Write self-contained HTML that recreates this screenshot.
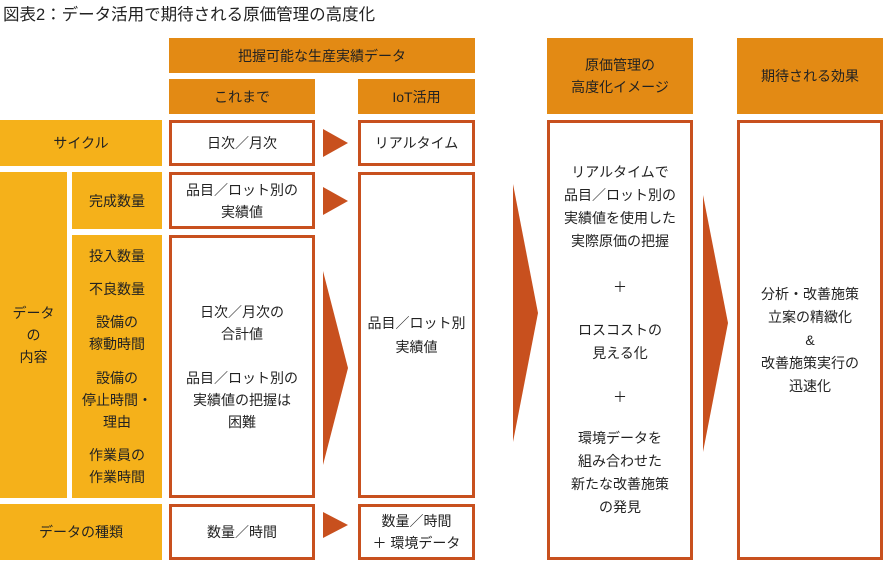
<!DOCTYPE html>
<html><head><meta charset="utf-8"><style>
body{margin:0;width:883px;height:564px;background:#fff;position:relative;overflow:hidden;font-family:"Liberation Sans","Noto Sans CJK JP",sans-serif;color:#222;}
.a{position:absolute;box-sizing:border-box;display:flex;align-items:center;justify-content:center;text-align:center;font-size:14px;line-height:22px;}
.h{background:#E38A14;}
.y{background:#F5B11A;}
.b{border:3px solid #C8501E;background:#fff;}
svg{position:absolute;left:0;top:0;}
</style></head><body>
<div style="position:absolute;left:3px;top:1px;font-size:16.5px;">図表2：データ活用で期待される原価管理の高度化</div>
<div class="a h" style="left:169px;top:38px;width:306px;height:35px;">把握可能な生産実績データ</div>
<div class="a h" style="left:169px;top:79px;width:146px;height:35px;">これまで</div>
<div class="a h" style="left:358px;top:79px;width:117px;height:35px;">IoT活用</div>
<div class="a h" style="left:547px;top:38px;width:146px;height:76px;">原価管理の<br>高度化イメージ</div>
<div class="a h" style="left:737px;top:38px;width:146px;height:76px;">期待される効果</div>

<div class="a y" style="left:0;top:120px;width:162px;height:46px;">サイクル</div>
<div class="a y" style="left:0;top:172px;width:67px;height:326px;">データ<br>の<br>内容</div>
<div class="a y" style="left:72px;top:172px;width:90px;height:57px;">完成数量</div>
<div class="a y" style="left:72px;top:235px;width:90px;height:263px;flex-direction:column;justify-content:space-around;padding:4px 0;">
<div>投入数量</div><div>不良数量</div><div>設備の<br>稼動時間</div><div>設備の<br>停止時間・<br>理由</div><div>作業員の<br>作業時間</div></div>
<div class="a y" style="left:0;top:504px;width:162px;height:56px;">データの種類</div>

<div class="a b" style="left:169px;top:120px;width:146px;height:46px;">日次／月次</div>
<div class="a b" style="left:169px;top:172px;width:146px;height:57px;">品目／ロット別の<br>実績値</div>
<div class="a b" style="left:169px;top:235px;width:146px;height:263px;">日次／月次の<br>合計値<br><br>品目／ロット別の<br>実績値の把握は<br>困難</div>
<div class="a b" style="left:169px;top:504px;width:146px;height:56px;">数量／時間</div>

<div class="a b" style="left:358px;top:120px;width:117px;height:46px;">リアルタイム</div>
<div class="a b" style="left:358px;top:172px;width:117px;height:326px;line-height:24px;">品目／ロット別<br>実績値</div>
<div class="a b" style="left:358px;top:504px;width:117px;height:56px;">数量／時間<br>＋ 環境データ</div>

<div class="a b" style="left:547px;top:120px;width:146px;height:440px;flex-direction:column;justify-content:flex-start;padding-top:38px;line-height:23px;">
<div>リアルタイムで<br>品目／ロット別の<br>実績値を使用した<br>実際原価の把握</div>
<div style="margin-top:23px;">＋</div>
<div style="margin-top:20px;">ロスコストの<br>見える化</div>
<div style="margin-top:21px;">＋</div>
<div style="margin-top:18px;">環境データを<br>組み合わせた<br>新たな改善施策<br>の発見</div></div>
<div class="a b" style="left:737px;top:120px;width:146px;height:440px;line-height:23px;">分析・改善施策<br>立案の精緻化<br>&amp;<br>改善施策実行の<br>迅速化</div>

<svg width="883" height="564">
<g fill="#C8501E">
<polygon points="323,129 348,143 323,157"/>
<polygon points="323,187 348,201 323,215"/>
<polygon points="323,271 348,368 323,465"/>
<polygon points="323,512 348,525 323,538"/>
<polygon points="513,184 538,313 513,442"/>
<polygon points="703,195 728,323 703,452"/>
</g></svg>
</body></html>
